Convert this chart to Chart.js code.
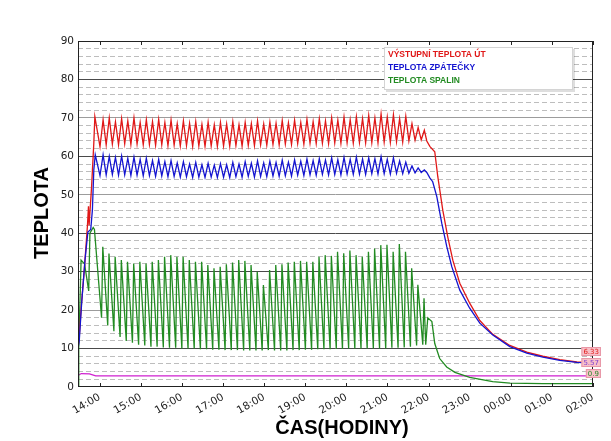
<!DOCTYPE html>
<html><head><meta charset="utf-8">
<script src="https://cdn.jsdelivr.net/npm/chart.js@4.4.1/dist/chart.umd.min.js"></script>
<style>html,body{margin:0;padding:0;background:#fff;}canvas{display:block;}</style>
</head><body>
<canvas id="c" width="611" height="441"></canvas>
<script>
// ---------- data (hours of day; values >24 are after midnight) ----------
const seriesNames = ['VÝSTUPNÍ TEPLOTA ÚT', 'TEPLOTA ZPÁTEČKY', 'TEPLOTA SPALIN'];
const hourTicks  = [14,15,16,17,18,19,20,21,22,23,24,25,26];
const hourLabels = ['14:00','15:00','16:00','17:00','18:00','19:00','20:00','21:00','22:00','23:00','00:00','01:00','02:00'];
const yTicks = [0,10,20,30,40,50,60,70,80,90];
const endLabels = ['6.33', '5.57', '0.9'];

// burner cycles: first peak time and cycle length (hours)
const firstPeakHour = 14.073;
const cycleHours = 0.1503;

// warm-up (start of heating)
const redStartTimes  = [13.47, 13.50, 13.55, 13.62, 13.70, 13.725, 13.74, 13.80, 13.855, 13.88];
const redStart       = [10, 13, 21, 30, 42, 47, 42, 52, 63.5, 70.3];
const blueStartTimes = [13.47, 13.50, 13.56, 13.64, 13.71, 13.78, 13.82, 13.855, 13.89];
const blueStart      = [10, 12, 22, 33, 40.3, 41, 46, 56.5, 60.4];
const greenStartTimes= [13.47, 13.488, 13.545, 13.63, 13.73, 13.76, 13.84, 13.87];
const greenStart     = [0, 10, 33, 32, 25, 40, 41.5, 41];

// per-cycle peaks and troughs
const redPeaks = [69.5,70,69,69.8,69.2,70,68.8,69.5,69,69.6,
  68.8,69.4,68.5,69.2,68.6,69,68.3,68.9,68.2,68.8,
  68.4,69,68.2,68.8,68.5,69.2,68.4,68.9,68.6,69.3,
  68.7,69.4,68.8,69.6,69,69.8,69.2,70,69.4,70.2,
  69.5,70.3,69.8,70.6,70,71,70.2,70.8,69.8,70.4,
  68.5,67.5,66.8];
const redTroughs = [62.5,63,63.2,63,63.3,63.1,63.2,63,63.1,62.9,
  63,62.8,62.9,62.7,62.8,62.6,62.7,62.6,62.7,62.6,
  62.7,62.6,62.8,62.7,62.9,62.8,63,62.9,63.1,63,
  63.2,63.1,63.3,63.2,63.4,63.3,63.4,63.3,63.5,63.4,
  63.5,63.4,63.6,63.5,63.6,63.5,63.7,63.6,63.8,63.7,
  64,64.2,64.3];
const bluePeaks = [60.4,60,59.7,60.1,59.5,59.8,59.2,59.5,58.9,59.2,
  58.6,58.9,58.3,58.6,58,58.4,57.8,58.2,57.7,58.1,
  57.8,58.4,58,58.6,58.2,58.8,58.3,58.7,58.4,59,
  58.5,59.1,58.7,59.3,58.9,59.4,59,59.6,59.1,59.7,
  59.2,59.8,59.3,59.6,59.4,59.9,59.2,59.6,58.8,58.5,
  57.5,57,56.5];
const blueTroughs = [55,55.2,55.3,55.1,55.2,55,55.1,54.9,55,54.8,
  54.9,54.7,54.8,54.6,54.7,54.5,54.6,54.5,54.6,54.5,
  54.6,54.5,54.7,54.6,54.8,54.6,54.8,54.7,54.9,54.8,
  55,54.9,55.1,55,55.2,55.1,55.3,55.2,55.3,55.2,
  55.4,55.3,55.4,55.3,55.5,55.4,55.5,55.4,55.6,55.5,
  55.6,55.7,55.8];
const greenPeaks = [36.5,34.7,33.9,33.0,32.6,32.1,32.6,32.1,32.6,33.0,
  33.9,34.3,33.9,33.9,33.0,32.6,32.6,31.7,30.9,31.3,
  31.9,32.4,33.0,32.8,31.7,30.0,26.5,30.4,31.7,31.9,
  32.4,32.6,32.8,32.6,32.6,33.9,34.3,34.1,35.2,34.8,
  35.5,34.3,33.9,35.2,36.0,36.9,37.0,35.2,37.2,35.2,
  30.9,26.6,23.1];
const greenTroughs = [18,16,14.5,13,12,11.5,11,10.8,10.5,10.5,
  10.3,10.2,10.2,10,10,10,9.8,9.8,9.7,9.7,
  9.6,9.6,9.6,9.5,9.5,9.5,9.5,9.6,9.5,9.5,
  9.5,9.6,9.6,9.7,9.7,9.8,9.8,9.8,9.9,9.9,
  10,10,10,10,10,10,10,10.2,10.2,10.3,
  10.5,10.8,11];

// cool-down after burner stops
const redTailTimes  = [21.956,22.03,22.15,22.224,22.345,22.467,22.589,22.759,23.0,23.246,23.562,23.976,24.389,24.779,25.192,25.606,26.0];
const redTail       = [64.0,62.6,61.2,54.7,46,39,33,27,21.8,17.3,13.7,10.8,9.1,8.0,7.1,6.5,6.3];
const blueTailTimes = [21.956,22.03,22.10,22.20,22.32,22.443,22.564,22.759,23.0,23.246,23.562,23.976,24.389,24.779,25.192,25.606,26.0];
const blueTail      = [55.8,54.4,53.4,49.5,42.6,36.5,31.3,25.2,20.5,16.6,13.5,10.5,8.8,7.8,6.9,6.4,6.2];
const greenTailTimes= [21.93,21.98,22.08,22.15,22.27,22.44,22.64,23.0,23.56,23.98,24.78,26.0];
const greenTail     = [11,18,17,11.3,7.4,5.2,3.8,2.5,1.4,1.0,0.9,0.9];

// fourth (unlabelled) line
const magentaTimes = [13.47, 13.55, 13.75, 13.90, 26.0];
const magenta      = [3.0, 3.5, 3.4, 2.9, 2.9];

// ---------- build points ----------
function pairs(times, vals) { return times.map((t, i) => ({x: t, y: vals[i]})); }
function cyclePoints(troughs, peaks, troughPhase, peakPhase) {
  const pts = [];
  for (let k = 0; k < peaks.length; k++) {
    const t = firstPeakHour + k * cycleHours;
    pts.push({x: t + troughPhase * cycleHours, y: troughs[k]});
    pts.push({x: t + peakPhase * cycleHours, y: peaks[k]});
  }
  return pts;
}
const redData   = [...pairs(redStartTimes, redStart),   ...cyclePoints(redTroughs, redPeaks, -0.45, 0.05),  ...pairs(redTailTimes, redTail)];
const blueData  = [...pairs(blueStartTimes, blueStart), ...cyclePoints(blueTroughs, bluePeaks, -0.45, 0.05), ...pairs(blueTailTimes, blueTail)];
const greenData = [...pairs(greenStartTimes, greenStart), ...cyclePoints(greenTroughs, greenPeaks, -0.2, 0), ...pairs(greenTailTimes, greenTail)];
const magentaData = pairs(magentaTimes, magenta);

const colors = ['#e01818', '#1414d0', '#228b22'];
const endTextColors = ['#e01818', '#8040d0', '#2a8a2a'];
const minorTicks = [];
for (let v = 2; v < 90; v += 2) if (v % 10 !== 0) minorTicks.push(v);

// ---------- plugins ----------
const decor = {
  id: 'decor',
  afterDatasetsDraw(chart) {
    const ctx = chart.ctx, a = chart.chartArea, xs = chart.scales.x;
    ctx.save();
    // frame
    ctx.strokeStyle = '#222'; ctx.lineWidth = 1;
    ctx.strokeRect(Math.round(a.left) + 0.5, Math.round(a.top) + 0.5, Math.round(a.right - a.left) - 1, Math.round(a.bottom - a.top) - 1);
    // inner hour tick marks
    ctx.beginPath();
    hourTicks.forEach(h => {
      const px = Math.round(xs.getPixelForValue(h)) + 0.5;
      ctx.moveTo(px, a.bottom); ctx.lineTo(px, a.bottom - 4);
      ctx.moveTo(px, a.top); ctx.lineTo(px, a.top + 4);
    });
    ctx.stroke();
    // legend box
    const lx = a.right - 209, ly = a.top + 6, lw = 189, lh = 43;
    ctx.fillStyle = 'rgba(0,0,0,0.13)'; ctx.fillRect(lx + 2, ly + 2, lw, lh);
    ctx.fillStyle = '#fff'; ctx.fillRect(lx, ly, lw, lh);
    ctx.strokeStyle = '#d4d4d4'; ctx.strokeRect(lx + 0.5, ly + 0.5, lw - 1, lh - 1);
    ctx.font = 'bold 8.5px "Liberation Sans"'; ctx.textBaseline = 'middle'; ctx.textAlign = 'left';
    seriesNames.forEach((n, i) => { ctx.fillStyle = colors[i]; ctx.fillText(n, lx + 4, ly + 8 + 12.7 * i); });
    // end-value boxes
    ctx.font = '7px "DejaVu Sans"'; ctx.textAlign = 'right';
    endLabels.forEach((t, i) => {
      const cy = a.bottom - 35.5 + 11 * i;
      const w = ctx.measureText(t).width + 4;
      const rx = a.right + 8;
      ctx.fillStyle = '#f8c0c8'; ctx.fillRect(rx - w, cy - 4.5, w, 9);
      ctx.strokeStyle = '#e898a8'; ctx.strokeRect(rx - w + 0.5, cy - 4, w - 1, 8);
      ctx.fillStyle = endTextColors[i]; ctx.fillText(t, rx - 2, cy + 0.5);
    });
    // axis titles
    ctx.fillStyle = '#000'; ctx.font = 'bold 20px "Liberation Sans"'; ctx.textAlign = 'center'; ctx.textBaseline = 'middle';
    ctx.fillText('ČAS(HODINY)', 342, 428);
    ctx.save(); ctx.translate(42, 213); ctx.rotate(-Math.PI / 2); ctx.fillText('TEPLOTA', 0, 0); ctx.restore();
    ctx.restore();
  }
};

const darkLines = [10, 30, 40, 60, 80];

new Chart(document.getElementById('c'), {
  type: 'line',
  data: {
    datasets: [
      {label: seriesNames[1], data: blueData,  borderColor: colors[1], borderWidth: 1.3, pointRadius: 0, order: 0},
      {label: seriesNames[0], data: redData,   borderColor: colors[0], borderWidth: 1.3, pointRadius: 0, order: 1},
      {label: seriesNames[2], data: greenData, borderColor: colors[2], borderWidth: 1.3, pointRadius: 0, order: 2},
      {label: 'M', data: magentaData, borderColor: '#d020d0', borderWidth: 1.2, pointRadius: 0, order: 3}
    ]
  },
  options: {
    responsive: false, animation: false, devicePixelRatio: 1,
    layout: {padding: {top: 41, right: 18, bottom: 0, left: 0}},
    plugins: {legend: {display: false}, tooltip: {enabled: false}},
    elements: {line: {tension: 0}},
    scales: {
      x: {
        type: 'linear', min: 13.47, max: 26.0,
        afterBuildTicks: s => { s.ticks = hourTicks.map(v => ({value: v})); },
        afterFit: s => { s.height = 54; },
        grid: {drawOnChartArea: false, drawTicks: false},
        border: {display: false},
        ticks: {autoSkip: false, minRotation: 30, maxRotation: 30, padding: 4, color: '#222',
          font: {family: 'DejaVu Sans', size: 10.5},
          callback: v => hourLabels[hourTicks.indexOf(v)] ?? ''}
      },
      y: {
        min: 0, max: 90,
        afterBuildTicks: s => { s.ticks = yTicks.map(v => ({value: v})); },
        afterFit: s => { s.width = 78; },
        grid: {drawTicks: false, lineWidth: 1,
          color: c => (c.tick.value === 0 || c.tick.value === 90) ? 'rgba(0,0,0,0)' : (darkLines.includes(c.tick.value) ? '#4a4a4a' : '#9c9c9c')},
        border: {display: false},
        ticks: {padding: 4, color: '#222', font: {family: 'DejaVu Sans', size: 10.5}, callback: v => String(v)}
      },
      y2: {
        position: 'right', min: 0, max: 90,
        afterBuildTicks: s => { s.ticks = minorTicks.map(v => ({value: v})); },
        afterFit: s => { s.width = 0; },
        grid: {drawTicks: false, color: '#bdbdbd', lineWidth: 1, z: -1},
        border: {display: false, dash: [5, 3]},
        ticks: {display: false}
      }
    }
  },
  plugins: [decor]
});
</script>
</body></html>
